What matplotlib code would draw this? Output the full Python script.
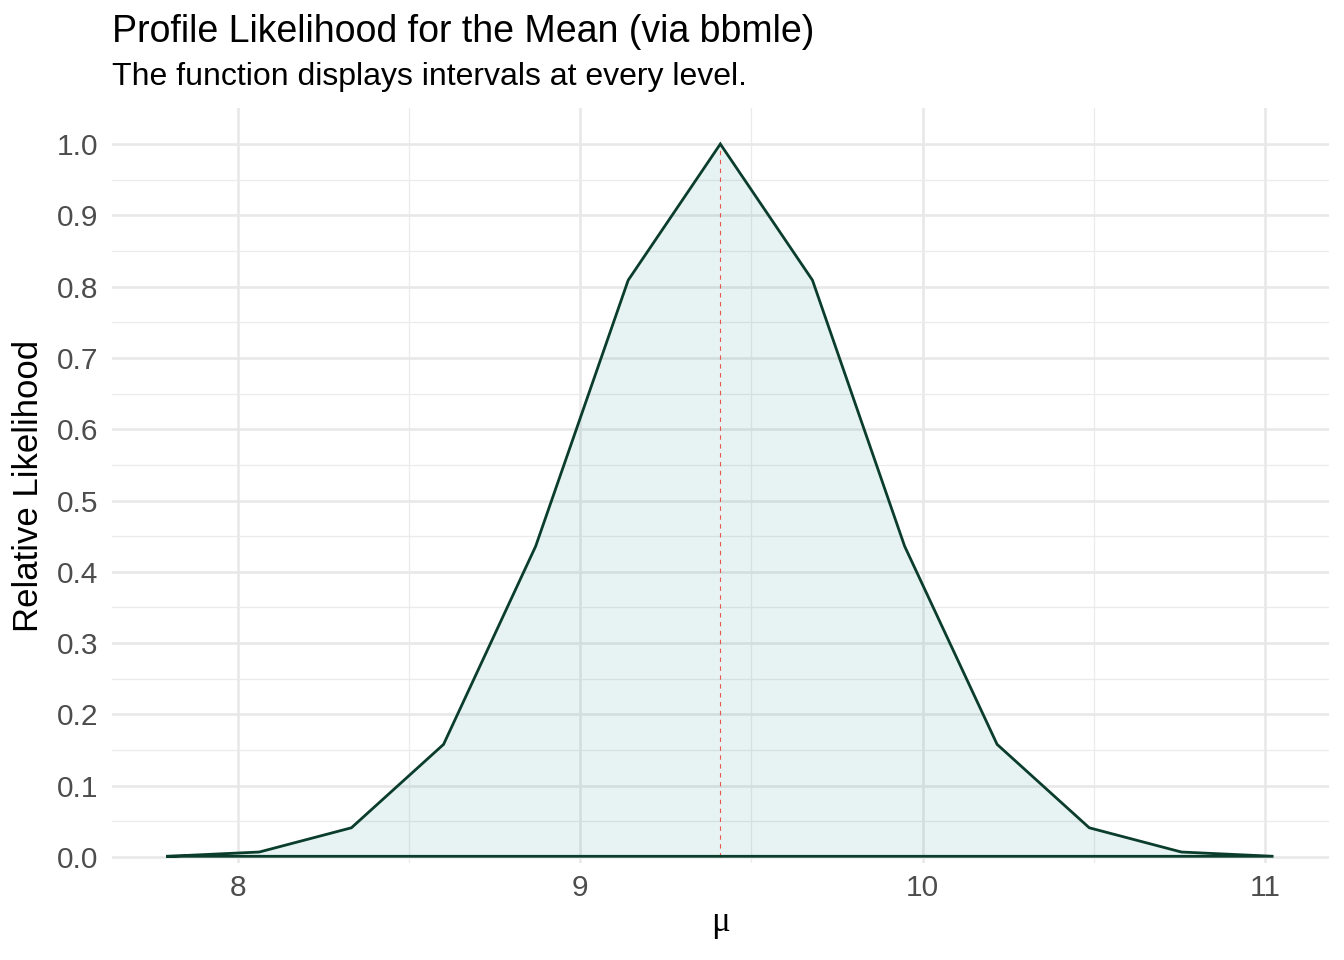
import matplotlib
matplotlib.use('Agg')
import matplotlib.pyplot as plt
import numpy as np

# profile likelihood values
mu = [7.795, 8.063, 8.332, 8.601, 8.870, 9.140, 9.409, 9.678, 9.947, 10.217, 10.486, 10.755, 11.024]
rel_lik = [0.001, 0.007, 0.041, 0.158, 0.436, 0.809, 1.0, 0.809, 0.436, 0.158, 0.041, 0.007, 0.001]
mle = 9.409

x_ticks = [8, 9, 10, 11]
y_ticks = [round(0.1 * i, 1) for i in range(11)]

plt.rcParams['font.family'] = ['Liberation Sans', 'DejaVu Sans']

W, H = 1344, 960
fig = plt.figure(figsize=(W / 100, H / 100), dpi=100)
ax = fig.add_axes([112 / W, 1 - 863 / H, (1329 - 112) / W, (863 - 108) / H])

ax.set_xlim(7.633, 11.186)
ax.set_ylim(-0.0084, 1.0505)

# grid like theme_minimal
ax.set_xticks(x_ticks)
ax.set_yticks(y_ticks)
ax.set_xticks([8.5, 9.5, 10.5], minor=True)
ax.set_yticks([0.05 + 0.1 * i for i in range(10)], minor=True)
ax.grid(which='major', color='#e8e8e8', linewidth=1.9)
ax.grid(which='minor', color='#ebebeb', linewidth=0.9)
ax.set_axisbelow(True)
for s in ax.spines.values():
    s.set_visible(False)
ax.tick_params(which='both', length=0)
ax.tick_params(axis='both', labelsize=21.5, labelcolor='#4d4d4d')
ax.tick_params(axis='x', pad=8)
ax.tick_params(axis='y', pad=10)
ax.set_yticklabels([f'{v:.1f}' for v in y_ticks])

ax.fill(mu, rel_lik, facecolor='#0f8a80', alpha=0.1, edgecolor='none', zorder=2)
px = list(mu) + [mu[0]]
py = list(rel_lik) + [rel_lik[0]]
ax.plot(px, py, color='#0b3d2c', linewidth=2.0, zorder=4, solid_joinstyle='miter')
ax.plot([mle, mle], [0, 1], color='#e8463a', linewidth=0.8, linestyle=(0, (4, 4)), alpha=0.9, zorder=3)

ax.set_xlabel('μ', family=['Liberation Serif', 'DejaVu Serif'], fontsize=25, labelpad=3)
ax.set_ylabel('Relative Likelihood', fontsize=25, labelpad=8)

fig.text(112 / W, 1 - 32 / H, 'Profile Likelihood for the Mean (via bbmle)', fontsize=27,
         va='center', ha='left')
fig.text(112 / W, 1 - 77 / H, 'The function displays intervals at every level.', fontsize=23,
         va='center', ha='left')

fig.savefig('out.png', dpi=100)
